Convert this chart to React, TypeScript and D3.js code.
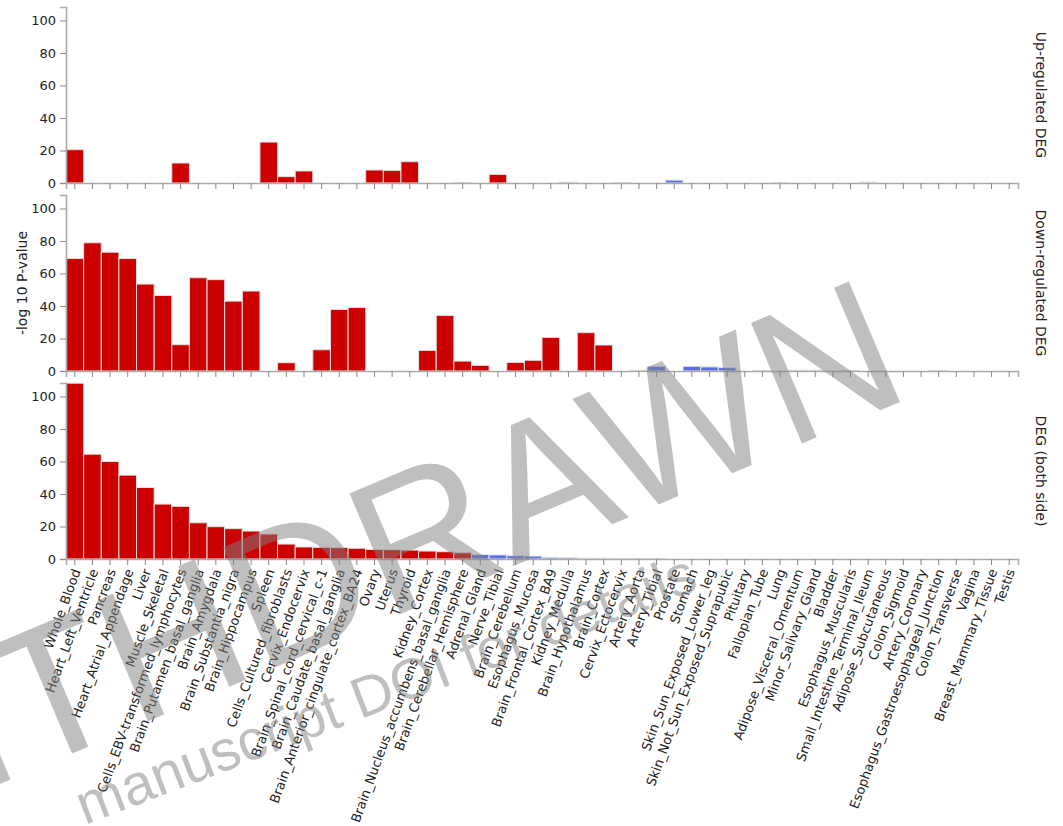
import React, { useEffect, useRef } from 'react';
import * as d3 from 'd3';

const tissues = [
  'Whole_Blood', 'Heart_Left_Ventricle', 'Pancreas', 'Heart_Atrial_Appendage', 'Liver',
  'Muscle_Skeletal', 'Cells_EBV-transformed_lymphocytes', 'Brain_Putamen_basal_ganglia',
  'Brain_Amygdala', 'Brain_Substantia_nigra', 'Brain_Hippocampus', 'Spleen',
  'Cells_Cultured_fibroblasts', 'Cervix_Endocervix', 'Brain_Spinal_cord_cervical_c-1',
  'Brain_Caudate_basal_ganglia', 'Brain_Anterior_cingulate_cortex_BA24', 'Ovary', 'Uterus',
  'Thyroid', 'Kidney_Cortex', 'Brain_Nucleus_accumbens_basal_ganglia',
  'Brain_Cerebellar_Hemisphere', 'Adrenal_Gland', 'Nerve_Tibial', 'Brain_Cerebellum',
  'Esophagus_Mucosa', 'Brain_Frontal_Cortex_BA9', 'Kidney_Medulla', 'Brain_Hypothalamus',
  'Brain_Cortex', 'Cervix_Ectocervix', 'Artery_Aorta', 'Artery_Tibial', 'Prostate', 'Stomach',
  'Skin_Sun_Exposed_Lower_leg', 'Skin_Not_Sun_Exposed_Suprapubic', 'Pituitary',
  'Fallopian_Tube', 'Lung', 'Adipose_Visceral_Omentum', 'Minor_Salivary_Gland', 'Bladder',
  'Esophagus_Muscularis', 'Small_Intestine_Terminal_Ileum', 'Adipose_Subcutaneous',
  'Colon_Sigmoid', 'Artery_Coronary', 'Esophagus_Gastroesophageal_Junction',
  'Colon_Transverse', 'Vagina', 'Breast_Mammary_Tissue', 'Testis',
];

// -log10 P-values, up-regulated DEG
const upValues = [
  20.5, 0, 0, 0, 0, 0, 12.3, 0, 0, 0,
  0, 25.2, 3.9, 7.4, 0, 0, 0, 8.0, 7.8, 13.1,
  0, 0, 0.3, 0, 5.3, 0, 0, 0, 0.6, 0,
  0, 0.3, 0, 0, 1.8, 0, 0, 0, 0, 0,
  0.3, 0, 0, 0, 0, 0.6, 0, 0, 0, 0,
  0, 0, 0, 0,
];
const upDirs = [
  'E', 'E', 'E', 'E', 'E', 'E', 'E', 'E', 'E', 'E',
  'E', 'E', 'E', 'E', 'E', 'E', 'E', 'E', 'E', 'E',
  'E', 'E', 'E', 'E', 'E', 'E', 'E', 'E', 'D', 'D',
  'D', 'D', 'D', 'D', 'D', 'D', 'D', 'D', 'D', 'D',
  'D', 'D', 'D', 'D', 'D', 'D', 'D', 'D', 'D', 'D',
  'D', 'D', 'D', 'D',
];

// -log10 P-values, down-regulated DEG
const downValues = [
  69.2, 78.9, 73.1, 69.2, 53.5, 46.5, 16.2, 57.4, 56.2, 43.0,
  49.2, 0, 5.1, 0, 13.1, 37.9, 39.1, 0, 0, 0,
  12.7, 34.2, 6.1, 3.5, 0, 5.3, 6.6, 20.7, 0, 23.6,
  16.0, 0, 0.6, 2.9, 0, 2.9, 2.5, 2.1, 0, 0.3,
  0, 0.6, 0.6, 0, 0.4, 0, 0, 0, 0, 0.4,
  0, 0, 0, 0,
];
const downDirs = [
  'E', 'E', 'E', 'E', 'E', 'E', 'E', 'E', 'E', 'E',
  'E', 'E', 'E', 'E', 'E', 'E', 'E', 'E', 'E', 'E',
  'E', 'E', 'E', 'E', 'E', 'E', 'E', 'E', 'E', 'E',
  'E', 'D', 'D', 'D', 'D', 'D', 'D', 'D', 'D', 'D',
  'D', 'D', 'D', 'D', 'D', 'D', 'D', 'D', 'D', 'D',
  'D', 'D', 'D', 'D',
];

// -log10 P-values, DEG (both side)
const bothValues = [
  108.2, 64.5, 60.0, 51.6, 44.0, 33.8, 32.4, 22.3, 19.9, 18.7,
  17.2, 15.4, 9.2, 7.4, 7.2, 7.0, 6.6, 5.9, 5.7, 5.5,
  4.9, 4.5, 3.9, 2.7, 2.5, 2.0, 1.8, 1.0, 0.8, 0.6,
  0.5, 0.3, 0.2, 0.15, 0, 0, 0, 0, 0, 0,
  0, 0, 0, 0, 0, 0, 0, 0, 0, 0,
  0, 0, 0, 0,
];
const bothDirs = [
  'E', 'E', 'E', 'E', 'E', 'E', 'E', 'E', 'E', 'E',
  'E', 'E', 'E', 'E', 'E', 'E', 'E', 'E', 'E', 'E',
  'E', 'E', 'E', 'D', 'D', 'D', 'D', 'D', 'D', 'D',
  'D', 'D', 'D', 'D', 'D', 'D', 'D', 'D', 'D', 'D',
  'D', 'D', 'D', 'D', 'D', 'D', 'D', 'D', 'D', 'D',
  'D', 'D', 'D', 'D',
];

const panelTitles = ['Up-regulated DEG', 'Down-regulated DEG', 'DEG (both side)'];
const yTicks = [0, 20, 40, 60, 80, 100];
const yMax = 108.3;
const yAxisTitle = '-log 10 P-value';
const watermark = 'WITHDRAWN';
const watermarkNote = 'manuscript DOI for details';

const COLORS: Record<string, string> = { E: '#cc0000', D: '#5a6ee6' };
const FONT = '"DejaVu Sans", Verdana, sans-serif';

export default function App() {
  const ref = useRef<SVGSVGElement>(null);

  useEffect(() => {
    const svg = d3.select(ref.current);
    svg.selectAll('*').remove();

    const left = 66;
    const right = 1018;
    const x = d3.scaleBand<string>().domain(tissues).range([left, right]).paddingInner(0).paddingOuter(0);

    const panels = [
      { values: upValues, dirs: upDirs },
      { values: downValues, dirs: downDirs },
      { values: bothValues, dirs: bothDirs },
    ];

    panels.forEach((p, i) => {
      const top = 7 + i * 188;
      const bottom = top + 176;
      const y = d3.scaleLinear().domain([0, yMax]).range([bottom, top]);
      const g = svg.append('g');

      const data = tissues
        .map((t, j) => ({ t, v: p.values[j], d: p.dirs[j] }))
        .filter((d) => d.v > 0);

      g.selectAll('rect')
        .data(data)
        .join('rect')
        .attr('x', (d) => x(d.t)!)
        .attr('width', x.bandwidth())
        .attr('y', (d) => y(d.v))
        .attr('height', (d) => bottom - y(d.v))
        .attr('fill', (d) => COLORS[d.d])
        .attr('stroke', '#e2e2e2')
        .attr('stroke-width', 1);

      const ya = g
        .append('g')
        .attr('transform', `translate(${left},0)`)
        .call(d3.axisLeft(y).tickValues(yTicks).tickSize(6).tickPadding(4));
      const xa = g
        .append('g')
        .attr('transform', `translate(0,${bottom})`)
        .call(d3.axisBottom(x).tickSize(6));

      [ya, xa].forEach((a) => {
        a.attr('font-family', FONT).attr('font-size', 13);
        a.select('.domain').attr('stroke', '#aaaaaa').attr('stroke-width', 1.6);
        a.selectAll('.tick line').attr('stroke', '#888888');
        a.selectAll('.tick text').attr('fill', '#222');
      });

      if (i < 2) {
        xa.selectAll('.tick text').remove();
      } else {
        xa.selectAll('.tick text')
          .attr('y', 0)
          .attr('dy', 0)
          .attr('text-anchor', 'end')
          .attr('transform', 'translate(6,12) rotate(-70)');
      }

      svg
        .append('text')
        .attr('transform', `translate(1035.5,${(top + bottom) / 2}) rotate(90)`)
        .attr('text-anchor', 'middle')
        .attr('font-family', FONT)
        .attr('font-size', 14)
        .attr('fill', '#222')
        .text(panelTitles[i]);

      if (i === 1) {
        svg
          .append('text')
          .attr('transform', `translate(26.5,${(top + bottom) / 2}) rotate(-90)`)
          .attr('text-anchor', 'middle')
          .attr('font-family', FONT)
          .attr('font-size', 14)
          .attr('fill', '#222')
          .text(yAxisTitle);
      }
    });

    // watermark overlay
    svg
      .append('text')
      .attr('transform', 'translate(914,396) rotate(-23)')
      .attr('text-anchor', 'end')
      .attr('font-family', '"Liberation Sans", Arial, sans-serif')
      .attr('font-size', 190)
      .attr('fill', '#808080')
      .attr('fill-opacity', 0.5)
      .text(watermark);
    svg
      .append('text')
      .attr('transform', 'translate(700,589) rotate(-21)')
      .attr('text-anchor', 'end')
      .attr('font-family', '"Liberation Sans", Arial, sans-serif')
      .attr('font-size', 57)
      .attr('fill', '#808080')
      .attr('fill-opacity', 0.5)
      .text(watermarkNote);
  }, []);

  return (
    <svg
      ref={ref}
      width={1063}
      height={826}
      style={{ position: 'absolute', left: 0, top: 0, background: '#fff' }}
    />
  );
}
